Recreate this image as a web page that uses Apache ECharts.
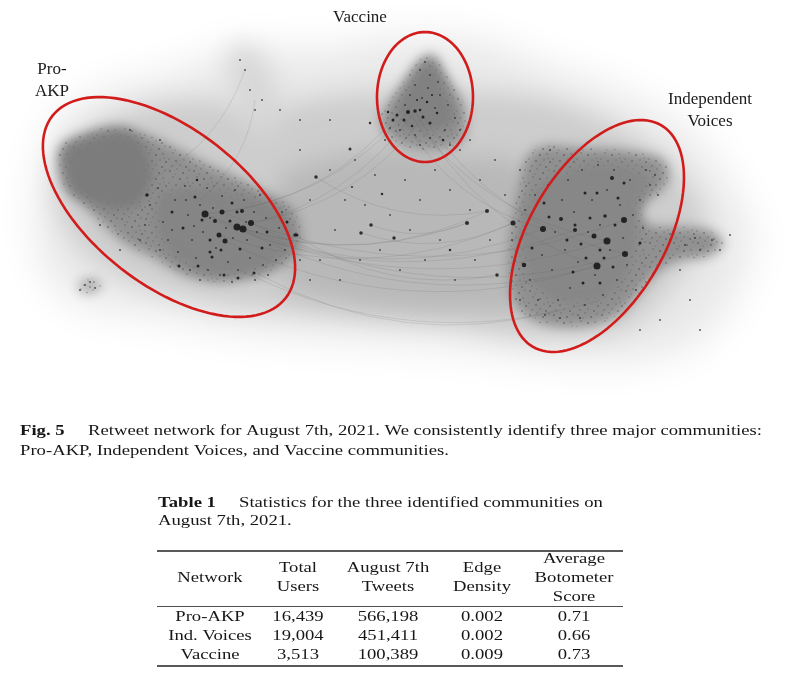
<!DOCTYPE html>
<html>
<head>
<meta charset="utf-8">
<script src="https://cdn.jsdelivr.net/npm/echarts@6/dist/echarts.min.js"></script>
<style>html,body{margin:0;padding:0;background:#fff}#c{width:794px;height:688px}</style>
</head>
<body>
<div id="c"></div>
<script>
// ---------------- DATA ----------------
// Hub nodes of each community: [x, y, weight]
const proAkpHubs = [
  [205,214,7],[222,212,5],[237,227,7],[243,229,7],[251,223,6],[219,235,5],[225,241,5],
  [215,221,4],[242,211,4],[237,212,3],[147,195,3.5],[172,212,3],[195,197,3],[230,221,3],
  [210,240,3],[179,266,3],[198,266,3],[212,257,3],[221,250,3],[240,249,3],[224,275,3],
  [238,278,3],[254,273,3],[287,222,3],[297,235,3],[197,180,2.5],[183,228,3],[202,220,3],
  [210,252,3],[267,232,3],[232,203,3],[262,248,3]
];
const indVoicesHubs = [
  [607,241,7],[597,266,7],[625,254,6],[624,220,6],[543,229,6],[594,236,5],[513,223,5],
  [524,265,4.5],[575,230,4],[561,219,4],[612,178,4],[597,193,3],[605,216,3.5],[590,218,3],
  [581,244,3],[600,250,3],[604,258,3],[615,225,3],[585,193,3],[544,203,3],[575,225,3],
  [618,198,3],[549,217,3],[567,240,3],[586,258,3],[613,267,3],[532,248,3],[624,183,3],
  [583,283,3],[573,272,3],[600,283,3],[640,243,3],[497,275,3.5]
];
const vaccineHubs = [
  [408,112,4],[415,111,3.5],[423,117,3],[397,115,3],[404,120,3],[393,120,3],[430,123,3],
  [412,126,2.5],[420,110,2.5],[443,140,2.5],[388,112,2.5],[427,102,2.5],[437,113,2.5],
  [432,95,2],[417,100,2]
];
const bridgeHubs = [
  [316,177,3.5],[350,149,3],[371,225,3.5],[361,233,3.5],[394,238,3.5],[382,194,2.5],
  [467,223,4],[487,211,4],[450,250,2.5],[295,235,3.5],[370,123,2.5],[352,187,2]
];
// Minor nodes: [x, y]
const minorNodes = [
  [150,205],[158,188],[163,222],[168,240],[175,200],[178,252],[185,186],[188,215],[192,240],[196,258],
  [200,205],[203,232],[207,188],[208,270],[213,208],[216,248],[222,196],[226,228],[228,262],[233,238],
  [235,190],[238,270],[244,200],[247,240],[250,258],[254,212],[257,232],[260,195],[263,265],[266,218],
  [270,245],[273,205],[276,260],[279,228],[282,212],[285,250],[190,270],[200,280],[172,230],[160,250],
  [145,225],[140,240],[255,280],[268,275],[232,282],[220,275],[186,200],[246,222],[210,218],[194,226],
  [520,240],[525,210],[530,280],[535,195],[538,300],[542,255],[548,185],[552,270],[555,232],[558,300],
  [562,200],[565,250],[568,180],[570,288],[574,212],[578,262],[582,170],[585,305],[588,232],[592,200],
  [595,275],[598,165],[600,225],[603,295],[607,190],[610,250],[614,170],[617,280],[620,205],[623,238],
  [627,265],[630,180],[633,215],[636,290],[640,200],[643,228],[646,170],[650,185],[655,175],[658,195],
  [545,315],[560,318],[580,318],[520,300],[515,260],[512,240],[670,240],[685,245],[700,250],[712,240],[695,238],
  [420,70],[425,62],[430,75],[415,85],[428,88],[438,82],[410,95],[422,98],[440,95],[448,105],[405,105],
  [435,108],[455,118],[400,130],[415,135],[430,138],[445,130],[460,130],[390,128],[420,145],[450,145],
  [300,150],[310,200],[320,260],[330,170],[335,230],[340,280],[345,200],[355,160],[360,260],[365,205],
  [375,175],[380,250],[385,140],[390,215],[400,270],[405,180],[410,230],[420,200],[425,260],[435,170],
  [440,240],[450,190],[455,280],[460,150],[470,210],[475,260],[480,180],[490,240],[495,160],[505,195],
  [280,110],[250,90],[245,70],[255,110],[240,60],[262,100],[85,285],[90,282],[95,288],[80,290],
  [130,130],[160,140],[100,225],[120,250],[300,260],[310,280],[680,270],[690,300],[660,320],[640,330],
  [550,150],[520,170],[470,140],[330,120],[300,120],[700,330],[720,250],[730,235]
];
// Layout regions by node/edge density: outline points [x, y]
const hazeOutline = [[40,175],[60,120],[110,90],[180,72],[240,48],[320,52],[380,40],[470,40],[545,66],[625,95],[695,138],[735,195],[752,240],[736,292],[702,338],[650,358],[560,360],[460,348],[350,340],[250,332],[150,315],[78,302],[42,262]];
const bandOutline = [[60,160],[120,115],[200,100],[260,110],[320,98],[380,92],[470,92],[545,100],[625,132],[680,175],[705,230],[670,288],[625,328],[540,338],[450,325],[360,318],[280,310],[200,300],[115,272],[65,225]];
const bridgeOutline = [[280,182],[340,156],[400,148],[460,156],[522,168],[528,300],[460,310],[400,308],[340,300],[283,280]];
const topSatOutline = [[230,52],[252,48],[272,78],[280,125],[262,138],[238,110]];
const lowSatOutline = [[78,285],[90,278],[102,284],[95,292],[82,292]];
const proAkpOutline = [[60,148],[78,136],[117,126],[142,133],[172,146],[205,163],[240,179],[266,193],[291,207],[301,233],[297,253],[272,271],[247,278],[217,282],[185,275],[154,258],[126,244],[103,224],[83,204],[66,190],[59,168]];
const proAkpCoreOutline = [[65,152],[80,142],[117,132],[140,140],[152,170],[142,200],[120,210],[95,204],[72,190]];
const proAkpHubOutline = [[160,195],[200,188],[242,194],[280,210],[292,240],[265,268],[220,275],[180,262],[158,232]];
const indVoicesOutline = [[527,157],[545,146],[580,148],[613,149],[641,153],[663,160],[669,177],[663,189],[650,199],[641,211],[650,225],[680,227],[708,230],[723,243],[708,256],[680,260],[660,270],[641,290],[623,311],[598,324],[563,327],[535,321],[516,305],[509,278],[509,247],[513,219],[519,186]];
const indVoicesCoreOutline = [[537,188],[580,166],[622,164],[648,178],[638,210],[634,252],[613,293],[570,304],[532,283],[521,230]];
const vaccineOutline = [[413,68],[423,57],[434,55],[442,68],[453,86],[463,102],[466,120],[463,139],[448,148],[427,150],[405,146],[387,135],[380,120],[387,105],[401,85]];
const vaccineCoreOutline = [[423,65],[435,65],[448,95],[455,120],[440,130],[410,130],[395,118],[405,92]];
// [outline, density, speckled]
const densityRegions = [
  [hazeOutline, 0.15, 0], [bandOutline, 0.33, 0], [bridgeOutline, 0.47, 0],
  [topSatOutline, 0.26, 0], [lowSatOutline, 0.55, 1],
  [proAkpOutline, 0.74, 1], [proAkpCoreOutline, 0.86, 0], [proAkpHubOutline, 0.8, 0],
  [indVoicesOutline, 0.73, 1], [indVoicesCoreOutline, 0.79, 0],
  [vaccineOutline, 0.72, 1], [vaccineCoreOutline, 0.83, 0]
];
// Retweet edges between hubs: [x1, y1, x2, y2]
const retweetEdges = [
  [205,214,607,241],[237,227,597,266],[243,229,543,229],[251,223,625,254],[222,212,624,220],
  [219,235,513,223],[225,241,596,266],[215,221,575,230],[205,214,467,223],[243,229,487,211],
  [205,214,408,112],[237,227,415,111],[251,223,423,117],[222,212,397,115],
  [408,112,607,241],[415,111,597,266],[423,117,625,254],[404,120,543,229],
  [150,180,245,70],[200,200,255,100],[240,270,600,300],[260,275,560,310],
  [295,235,497,275],[361,233,513,223],[371,225,467,223],[316,177,487,211]
];
// Community outlines: [cx, cy, semi-major, semi-minor, angle(deg)]
const communityEllipses = [[169,207,148,78,38],[425,97,48,65,0],[597,236,128,68,-60]];
const communityLabels = [["Pro-","AKP"],["Vaccine"],["Independent","Voices"]];

const captionLabel = "Fig. 5";
const captionLines = [
  "Retweet network for August 7th, 2021. We consistently identify three major communities:",
  "Pro-AKP, Independent Voices, and Vaccine communities."
];
const tableLabel = "Table 1";
const tableCaption = ["Statistics for the three identified communities on", "August 7th, 2021."];
const tableHeader = [["Network"],["Total","Users"],["August 7th","Tweets"],["Edge","Density"],["Average","Botometer","Score"]];
const networks = ["Pro-AKP","Ind. Voices","Vaccine"];
const totalUsers = [16439, 19004, 3513];
const aug7Tweets = [566198, 451411, 100389];
const edgeDensity = [0.002, 0.002, 0.009];
const botometerScore = [0.71, 0.66, 0.73];

// ---------------- RENDER ----------------
const chart = echarts.init(document.getElementById('c'));
const bodyFam = '"Liberation Serif", "DejaVu Serif", serif';
function measure(str, font) {
  const ctx = document.createElement('canvas').getContext('2d');
  ctx.font = font; return ctx.measureText(str).width;
}
const bodySize = 14;
const sx = 674 / measure(captionLines[0], bodySize + 'px ' + bodyFam);
const ink = '#161616';

// speckle texture tile for dense clusters
const tile = document.createElement('canvas');
tile.width = 24; tile.height = 24;
(function () {
  const g = tile.getContext('2d');
  g.fillStyle = 'rgba(25,25,25,0.55)';
  [[2,3,0.9],[9,1,0.7],[15,5,1],[21,2,0.7],[5,9,0.8],[12,11,1.1],[19,10,0.8],[1,15,0.7],
   [8,17,0.9],[16,16,0.7],[22,18,1],[4,22,0.8],[12,21,0.7],[18,23,0.9],[7,6,0.6],[20,14,0.6]]
    .forEach(d => { g.beginPath(); g.arc(d[0], d[1], d[2], 0, Math.PI * 2); g.fill(); });
})();

function txt(x, y, s, opts) {
  opts = opts || {};
  return {
    type: 'text', x: x, y: y, scaleX: opts.noScale ? 1 : sx, z: 100,
    style: {
      text: s, fill: opts.fill || ink,
      font: (opts.bold ? 'bold ' : '') + (opts.size || bodySize) + 'px ' + (opts.family || bodyFam),
      textAlign: opts.align || 'left', align: opts.align || 'left',
      textVerticalAlign: 'middle', verticalAlign: 'middle'
    }
  };
}
const fmtInt = v => v.toLocaleString('en-US');
const columns = [networks, totalUsers.map(fmtInt), aug7Tweets.map(fmtInt),
  edgeDensity.map(v => v.toFixed(3)), botometerScore.map(v => v.toFixed(2))];
const colX = [210, 298, 388, 482, 574];
const rowY = [617, 636, 655];

const graphics = [];
graphics.push(txt(20, 431, captionLabel, {bold: true}));
graphics.push(txt(88, 431, captionLines[0]));
graphics.push(txt(20, 451, captionLines[1]));
graphics.push(txt(158, 503, tableLabel, {bold: true}));
graphics.push(txt(239, 503, tableCaption[0]));
graphics.push(txt(158, 521, tableCaption[1]));
[[551, 1.3], [606.5, 0.8], [666, 1.3]].forEach(r => graphics.push({
  type: 'line', z: 100, shape: {x1: 157, y1: r[0], x2: 623, y2: r[0]},
  style: {stroke: '#222', lineWidth: r[1]}
}));
tableHeader.forEach((lines, i) => {
  lines.forEach((l, j) => graphics.push(txt(colX[i], 578 + (j - (lines.length - 1) / 2) * 19, l, {align: 'center'})));
});
columns.forEach((col, i) => col.forEach((v, r) => graphics.push(txt(colX[i], rowY[r], v, {align: 'center'}))));
const labelPos = [[52, 70], [360, 18], [710, 100]];
communityLabels.forEach((lines, i) => lines.forEach((l, j) => graphics.push(
  txt(labelPos[i][0], labelPos[i][1] + j * 22, l, {align: 'center', size: 17, noScale: true, family: '"Liberation Serif", serif', fill: '#1a1a1a'})
)));

const allHubs = proAkpHubs.concat(indVoicesHubs, vaccineHubs, bridgeHubs);
const regionData = densityRegions.map((r, i) => ({value: [i, r[1], r[2]]}));
const OFF = 3000;

chart.setOption({
  animation: false,
  backgroundColor: '#fff',
  grid: {left: 0, right: 0, top: 0, height: 400},
  xAxis: {type: 'value', min: 0, max: 794, show: false},
  yAxis: {type: 'value', min: 0, max: 400, inverse: true, show: false},
  graphic: graphics,
  series: [
    {
      type: 'custom', name: 'density', z: 1, silent: true, clip: false,
      data: regionData,
      renderItem: function (params, api) {
        const reg = densityRegions[api.value(0)];
        const dens = api.value(1);
        const pts = reg[0].map(p => api.coord(p));
        const g = Math.round(255 - 152 * dens);
        const col = 'rgb(' + g + ',' + g + ',' + g + ')';
        const blur = dens < 0.2 ? 40 : dens < 0.5 ? 24 : 12;
        const children = [{
          type: 'polygon', x: -OFF,
          shape: {points: pts, smooth: 0.35},
          style: {fill: col, shadowBlur: blur, shadowColor: col, shadowOffsetX: OFF}
        }];
        if (api.value(2)) {
          children.push({
            type: 'polygon', shape: {points: pts, smooth: 0.35},
            style: {fill: {image: tile, repeat: 'repeat'}, opacity: 0.6}
          });
        }
        return {type: 'group', children: children};
      }
    },
    {
      type: 'lines', coordinateSystem: 'cartesian2d', z: 2, silent: true,
      data: retweetEdges.map(e => ({coords: [[e[0], e[1]], [e[2], e[3]]]})),
      lineStyle: {color: '#555', width: 0.8, opacity: 0.18, curveness: -0.2}
    },
    {
      type: 'scatter', name: 'minor', z: 3, silent: true,
      data: minorNodes, symbolSize: 2,
      itemStyle: {color: '#2a2a2a', opacity: 0.75}
    },
    {
      type: 'scatter', name: 'hubs', z: 4, silent: true,
      data: allHubs, symbolSize: v => v[2],
      itemStyle: {color: '#0a0a0a'}
    },
    {
      type: 'custom', name: 'communities', z: 5, silent: true,
      data: communityEllipses,
      renderItem: function (params, api) {
        const c = api.coord([api.value(0), api.value(1)]);
        const a = api.size([api.value(2), 0])[0];
        const b = api.size([0, api.value(3)])[1];
        const th = api.value(4) * Math.PI / 180;
        const pts = [];
        for (let k = 0; k < 120; k++) {
          const t = k / 120 * Math.PI * 2;
          pts.push([c[0] + a * Math.cos(t) * Math.cos(th) - b * Math.sin(t) * Math.sin(th),
                    c[1] + a * Math.cos(t) * Math.sin(th) + b * Math.sin(t) * Math.cos(th)]);
        }
        return {type: 'polygon', shape: {points: pts}, style: {fill: null, stroke: '#d21c1c', lineWidth: 2.6}};
      }
    }
  ]
});
</script>
</body>
</html>
